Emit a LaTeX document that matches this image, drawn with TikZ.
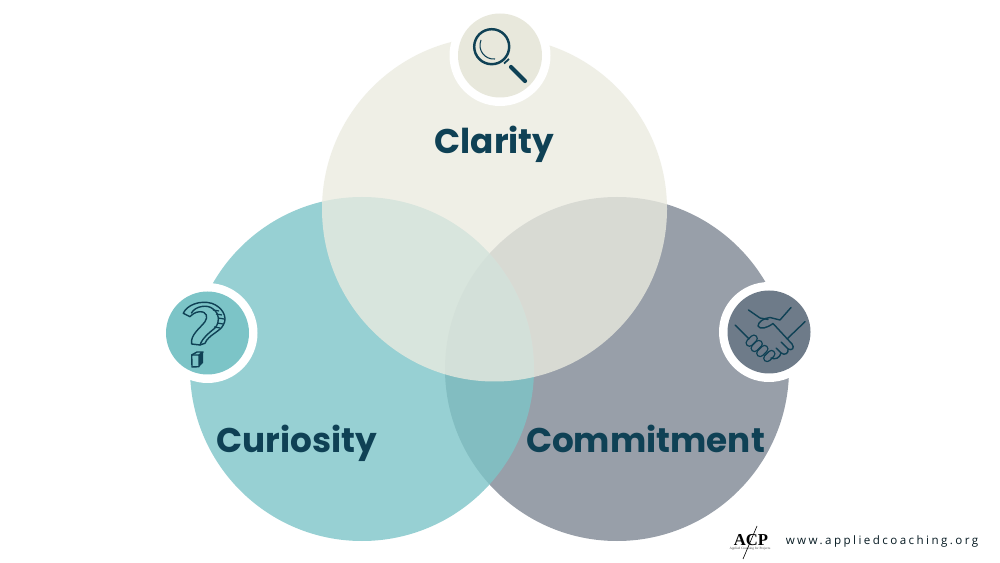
\documentclass[tikz,border=0pt]{standalone}
\usepackage{fontspec}
\setmainfont{Poppins}
\newfontfamily\urlfont[LetterSpace=21]{Open Sans}
\newfontfamily\logofont{Liberation Serif}
\definecolor{inkblue}{HTML}{0F4155}
\definecolor{clarityfill}{HTML}{EBEBE0}
\definecolor{curiosityfill}{HTML}{7DC5C8}
\definecolor{commitfill}{HTML}{989FA9}
\definecolor{clarityicon}{HTML}{E8E8DC}
\definecolor{curiosityicon}{HTML}{7CC4C7}
\definecolor{commiticon}{HTML}{6E7B89}
\tikzset{
	ring/.style={fill=white},
	label/.style={text=inkblue, font=\bfseries\fontsize{19.5}{20}\selectfont, anchor=base, inner sep=0pt},
	icon/.style={draw=inkblue, line width=0.8pt, line join=round, line cap=round},
	finger/.style={draw=inkblue, line width=0.8pt, line cap=round, double=commiticon, double distance=3pt},
}

\begin{document}
\begin{tikzpicture}[x=0.02cm, y=-0.02cm]
	\useasboundingbox (0,0) rectangle (1000,563);
	\fill[white] (0,0) rectangle (1000,563);

	\fill[commitfill] (617,369) circle [radius=172];
	\fill[curiosityfill, fill opacity=0.8] (362,369) circle [radius=172];
	\fill[clarityfill, fill opacity=0.78] (494.5,209) circle [radius=172.5];

	\fill[ring] (500,55.5) circle [radius=50.5];
	\fill[clarityicon] (500,55.5) circle [radius=42];
	\fill[ring] (207.5,333) circle [radius=50];
	\fill[curiosityicon] (207.5,333) circle [radius=41.5];
	\fill[ring] (769,332) circle [radius=50];
	\fill[commiticon] (769,332) circle [radius=41.5];

	\node[label] (clarity) at (494.5,154) {Clarity};
	\node[label] (curiosity) at (296.5,453) {Curiosity};
	\node[label] (commitment) at (645.5,453) {Commitment};

	% magnifier
	\draw[inkblue, line width=1.4pt] (491.7,46.7) circle [radius=17.5];
	\draw[inkblue, line width=0.6pt] (481,40) .. controls (477,50) and (485,60) .. (495,59);
	\draw[inkblue, line width=1pt] (504,63.5) -- (509,59);
	\draw[inkblue, line width=2.4pt, line cap=round] (511,67) -- (525,81);

	% question mark
	\draw[icon] (183.3,313.3) .. controls (186.7,305) and (200,300) .. (211.7,303.3)
		.. controls (221.7,306.7) and (228.3,316.7) .. (223.3,325)
		.. controls (220,331.7) and (208.3,335) .. (205,343.3)
		-- (200,345) -- (191.7,344)
		.. controls (190,335) and (200,328.3) .. (205,321.7)
		.. controls (208.3,316.7) and (206.7,311.7) .. (200,311.7)
		.. controls (195,311.7) and (191.7,315) .. (190,316.7) -- cycle;
	\draw[icon] (191.5,313) .. controls (195,306) and (208,304) .. (213,309)
		.. controls (220,314) and (220,322) .. (215,328)
		.. controls (209,333) and (203,337) .. (200,345);
	\foreach \hx/\hy in {213/310, 216/314, 218/318, 217/323, 214/327}
		\draw[inkblue, line width=0.7pt] (\hx,\hy) -- (\hx+6,\hy+1);
	\draw[icon] (191.7,355) -- (199,355) -- (199,366.7) -- (192,367) -- cycle;
	\draw[icon] (191.7,355) -- (197,352) -- (203,352) -- (199,355);
	\fill[inkblue] (199,355) -- (203,352) -- (203,363) -- (199,366.7) -- cycle;

	% handshake
	\foreach \fx/\fy in {751.7/340.7, 756.7/346, 762.3/351, 769.3/356}
		\draw[finger] (\fx-2.2,\fy+2.2) -- (\fx+2.2,\fy-2.2);
	\draw[icon] (735,325) -- (749,339);
	\draw[icon] (805,321.7) -- (787,339);
	\draw[icon] (748.5,310) -- (760,318) -- (768,319.5);
	\draw[icon] (791,307.5) -- (780,320) -- (770,317.5)
		.. controls (764,318) and (758,322) .. (758,326)
		.. controls (760,330) and (767,328) .. (773,323.5)
		-- (792,344)
		.. controls (795,348) and (792,351) .. (788,349) -- (781,342);
	\draw[icon] (788,349) .. controls (789,353) and (785,356) .. (781,353) -- (776,348);
	\draw[icon] (781,353) .. controls (780,358) and (775,360) .. (771,358);

	% logo
	\draw[black, line width=0.35pt] (757,526) -- (743,559);
	\node[text=black, font=\logofont\bfseries\fontsize{9.5}{10}\selectfont, inner sep=0pt] (acp) at (751,540) {ACP};
	\node[text=black!75, font=\logofont\fontsize{1.9}{2}\selectfont, inner sep=0pt] (tagline) at (750,549) {Applied Coaching for Projects};
	\node[text=inkblue!40!black, font=\urlfont\fontsize{6.6}{8}\selectfont, inner sep=0pt] (website) at (882,541) {www.appliedcoaching.org};
\end{tikzpicture}
\end{document}
